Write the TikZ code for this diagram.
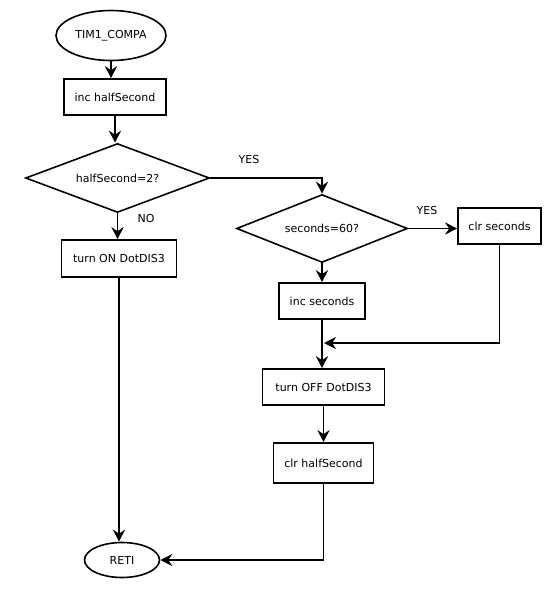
\documentclass[tikz,border=0pt]{standalone}
\usepackage{fontspec}
\setmainfont{DejaVu Sans}
\usetikzlibrary{shapes.geometric,arrows.meta}
\begin{document}
\begin{tikzpicture}[x=1pt,y=-1pt,
  every node/.style={font=\fontsize{11}{13}\selectfont, inner sep=0pt, line width=1.6pt},
  procbox/.style={draw, rectangle, anchor=center},
  term/.style={draw, ellipse},
  decide/.style={draw, diamond, aspect=3},
  lbl/.style={font=\fontsize{11}{13}\selectfont},
  arr/.style={line width=1.8pt, -{Stealth[length=12pt,width=12pt,inset=4pt]}},
  ln/.style={line width=1.8pt}]
\useasboundingbox (0,0) rectangle (555,600);
\fill[white] (0,0) rectangle (555,600);

\node[term, minimum width=110pt, minimum height=50pt] (start) at (111,35.5) {TIM1\_COMPA};
\node[procbox, minimum width=102pt, minimum height=36pt] (inc1) at (115,97) {inc halfSecond};
\node[decide, minimum width=184pt, minimum height=69pt] (d1) at (117.5,178) {halfSecond=2?};
\node[procbox, minimum width=115pt, minimum height=37pt] (on) at (119,258.5) {turn ON DotDIS3};
\node[term, minimum width=75pt, minimum height=35pt] (reti) at (122,560) {RETI};

\node[decide, minimum width=171pt, minimum height=68pt] (d2) at (322,228.5) {seconds=60?};
\node[procbox, minimum width=83pt, minimum height=36pt] (clrs) at (499.5,226) {clr seconds};
\node[procbox, minimum width=86pt, minimum height=36pt] (incs) at (322,301) {inc seconds};
\node[procbox, minimum width=122pt, minimum height=36pt] (off) at (323.5,387) {turn OFF DotDIS3};
\node[procbox, minimum width=100pt, minimum height=40pt] (clrh) at (323.5,463) {clr halfSecond};

\coordinate (merge) at (324,343);

\draw[arr] (start.south) -- (start.south |- inc1.north);
\draw[arr] (inc1.south) -- (inc1.south |- d1.north);
\draw[arr] (d1.south) -- (d1.south |- on.north);
\draw[arr] (on.south) -- (on.south |- reti.north);
\draw[arr] (d1.east) -| (d2.north);
\draw[arr] (d2.east) -- (d2.east -| clrs.west);
\draw[arr] (d2.south) -- (incs.north);
\draw[ln] (incs.south) -- (incs.south |- merge);
\draw[arr] (clrs.south) |- (merge);
\draw[arr] (incs.south |- merge) -- (incs.south |- off.north);
\draw[arr] (off.south) -- (clrh.north);
\draw[arr] (clrh.south) |- (reti.east);

\node[lbl] (yes1) at (249,159) {YES};
\node[lbl] (yes2) at (427,210) {YES};
\node[lbl] (no1) at (146,218) {NO};
\end{tikzpicture}
\end{document}
